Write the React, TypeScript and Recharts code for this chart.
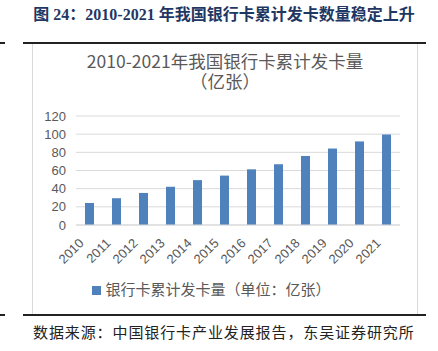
import { BarChart, Bar, XAxis, YAxis, CartesianGrid, Legend } from "recharts"

const years = ["2010", "2011", "2012", "2013", "2014", "2015", "2016", "2017", "2018", "2019", "2020", "2021"]
const cards = [24.2, 29.5, 35.3, 42.1, 49.4, 54.4, 61.3, 66.9, 76.0, 84.2, 92.0, 99.5]
const yTicks = [0, 20, 40, 60, 80, 100, 120]

const seriesName = "银行卡累计发卡量（单位：亿张）"
const figTitle = "图 24：2010-2021 年我国银行卡累计发卡数量稳定上升"
const chartTitle = "2010-2021年我国银行卡累计发卡量"
const chartUnit = "（亿张）"
const source = "数据来源：中国银行卡产业发展报告，东吴证券研究所"

const data = years.map((year, i) => ({ year, value: cards[i] }))

const cjk = '"Noto Sans CJK SC", "Liberation Sans", sans-serif'

function YearTick(props: any) {
  const { x, y, payload } = props
  return (
    <g transform={`translate(${x},${y})`}>
      <text
        x={-5}
        y={11}
        transform="rotate(-45, -5, 11)"
        textAnchor="end"
        fill="#595959"
        fontSize={13}
        fontFamily='"Liberation Sans", sans-serif'
      >
        {payload.value}
      </text>
    </g>
  )
}

export default function App() {
  return (
    <div style={{ position: "absolute", left: 0, top: 0, width: 438, height: 351, background: "#fff", overflow: "hidden" }}>
      {/* figure caption */}
      <div
        style={{
          position: "absolute", left: 0, top: 4, width: 448, textAlign: "center",
          fontFamily: '"Liberation Serif", "Noto Sans CJK SC", serif', fontWeight: "bold",
          fontSize: 16, color: "#1f3763", lineHeight: "22px", whiteSpace: "nowrap"
        }}
      >
        {figTitle}
      </div>
      <div style={{ position: "absolute", left: 23, top: 42, width: 403, height: 2, background: "#222" }} />
      <div style={{ position: "absolute", left: 0, top: 42, width: 5, height: 2, background: "#222" }} />

      {/* chart frame */}
      <div style={{ position: "absolute", left: 32, top: 44, width: 384, height: 270, borderLeft: "1px solid #d9d9d9", borderRight: "1px solid #d9d9d9" }} />

      {/* chart title, two lines */}
      <svg style={{ position: "absolute", left: 33, top: 44 }} width={384} height={50}>
        <text x={192} y={24} textAnchor="middle" fontFamily={cjk} fontSize={17.5} fill="#595959">
          {chartTitle}
        </text>
        <text x={192} y={44} textAnchor="middle" fontFamily={cjk} fontSize={17.5} fill="#595959">
          {chartUnit}
        </text>
      </svg>

      <div style={{ position: "absolute", left: 33, top: 43 }}>
        <BarChart width={384} height={270} data={data} margin={{ top: 73, right: 17, left: 0, bottom: 14 }}>
          <CartesianGrid vertical={false} stroke="#d9d9d9" />
          <XAxis
            dataKey="year"
            axisLine={{ stroke: "#d9d9d9" }}
            tickLine={false}
            interval={0}
            height={53}
            tick={<YearTick />}
          />
          <YAxis
            domain={[0, 120]}
            ticks={yTicks}
            interval={0}
            width={43}
            axisLine={false}
            tickLine={false}
            tickMargin={4}
            tick={{ fill: "#595959", fontSize: 13, fontFamily: '"Liberation Sans", sans-serif' }}
          />
          <Legend
            verticalAlign="bottom"
            iconType="square"
            iconSize={9}
            wrapperStyle={{ fontFamily: cjk, fontSize: 15 }}
            formatter={(v: string) => <span style={{ color: "#595959" }}>{v}</span>}
          />
          <Bar dataKey="value" name={seriesName} fill="#4f81bd" barSize={9} isAnimationActive={false} />
        </BarChart>
      </div>

      <div style={{ position: "absolute", left: 23, top: 314, width: 403, height: 2, background: "#222" }} />
      <div style={{ position: "absolute", left: 0, top: 314, width: 5, height: 2, background: "#222" }} />
      <div
        style={{
          position: "absolute", left: 33, top: 321, fontFamily: cjk, fontSize: 15,
          letterSpacing: 0.9, color: "#222", lineHeight: "22px", whiteSpace: "nowrap"
        }}
      >
        {source}
      </div>
    </div>
  )
}
